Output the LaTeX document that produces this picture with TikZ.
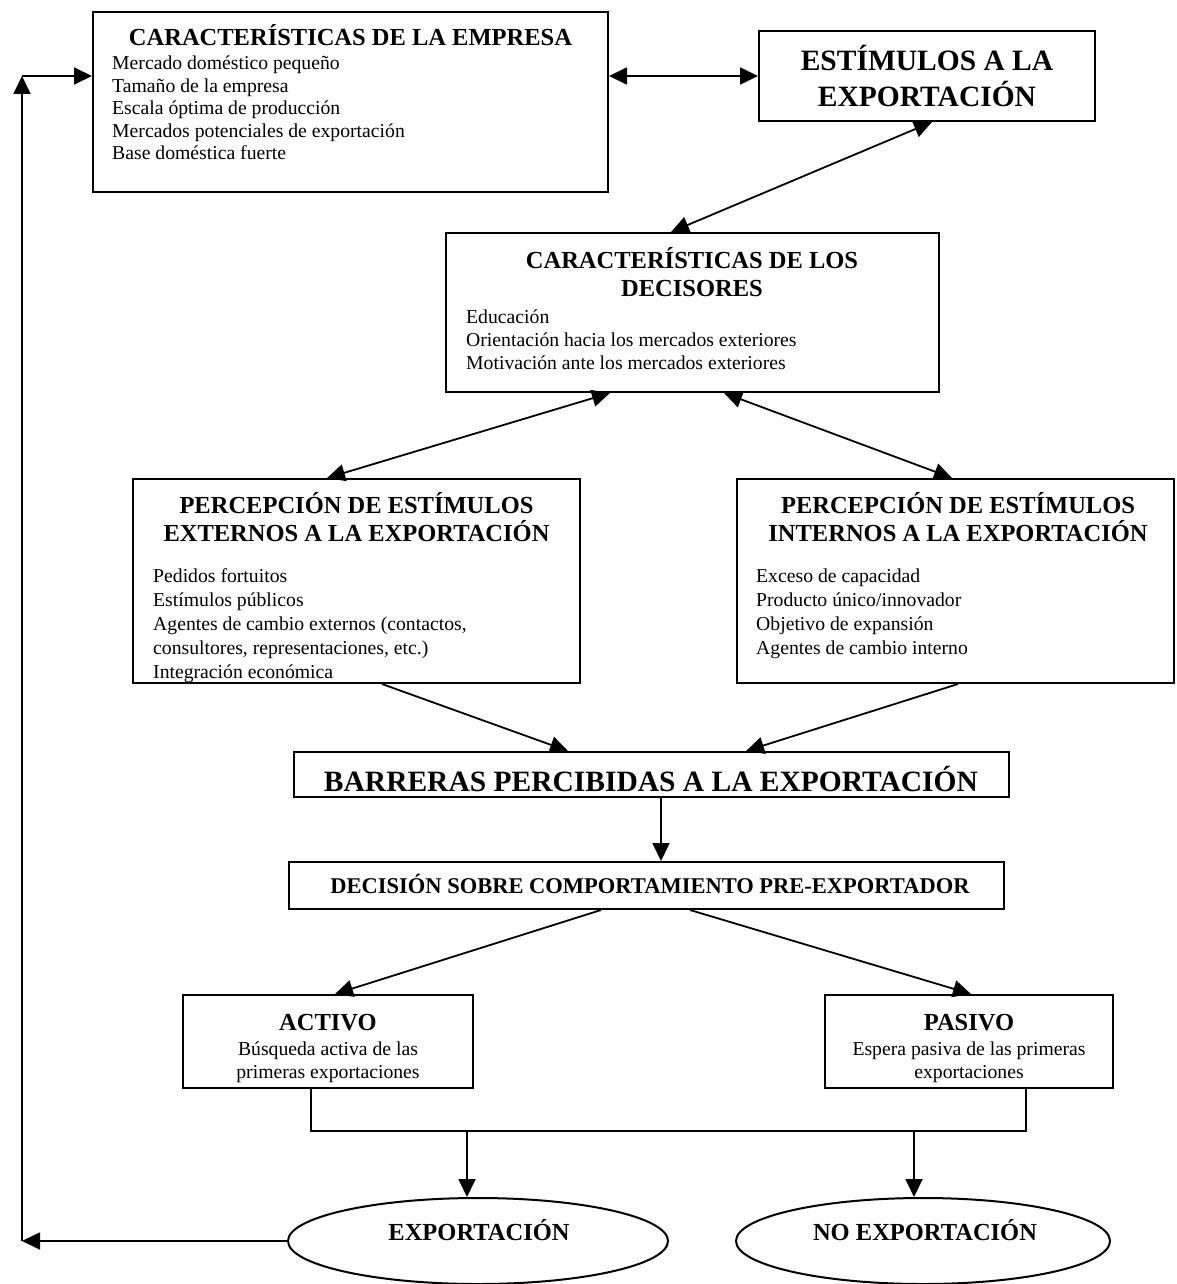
\documentclass[tikz,border=0pt]{standalone}
\usepackage{fontspec}
\setmainfont{Liberation Serif}
\usetikzlibrary{arrows.meta,shapes.geometric,calc}
\begin{document}
\begin{tikzpicture}[x=1pt,y=-1pt,
  box/.style={draw, line width=2pt, rectangle, inner sep=0pt},
  oval/.style={draw, line width=2pt, ellipse, inner sep=0pt},
  conn/.style={line width=1.8pt},
  tip/.tip={Triangle[length=18pt,width=17pt]},
  arr/.style={conn, -tip},
  dbl/.style={conn, tip-tip},
  ttl/.style={font=\fontsize{24.5}{28}\selectfont\bfseries, inner sep=0pt, anchor=base},
  big/.style={font=\fontsize{29.5}{34}\selectfont\bfseries, inner sep=0pt, anchor=base},
  mid/.style={font=\fontsize{22.5}{26}\selectfont\bfseries, inner sep=0pt, anchor=base},
  item/.style={font=\fontsize{19.7}{23}\selectfont, inner sep=0pt, anchor=base west},
  note/.style={font=\fontsize{19.7}{23}\selectfont, inner sep=0pt, anchor=base}]
\useasboundingbox (0,0) rectangle (1176,1284);
\clip (0,0) rectangle (1176,1284);

% boxes
\node[box, minimum width=515pt, minimum height=180pt] (emp) at (350.5,102) {};
\node[box, minimum width=336pt, minimum height=90pt] (est) at (927,76) {};
\node[box, minimum width=493pt, minimum height=159pt] (dec) at (692.5,312.5) {};
\node[box, minimum width=447pt, minimum height=204pt] (ext) at (356.5,581) {};
\node[box, minimum width=437pt, minimum height=204pt] (int) at (955.5,581) {};
\node[box, minimum width=715pt, minimum height=45pt] (bar) at (651.5,774.5) {};
\node[box, minimum width=715pt, minimum height=47pt] (dcs) at (646.5,885.5) {};
\node[box, minimum width=290pt, minimum height=93pt] (act) at (328,1041.5) {};
\node[box, minimum width=288pt, minimum height=93pt] (pas) at (969,1041.5) {};
\node[oval, minimum width=380pt, minimum height=86pt] (exp) at (478,1241) {};
\node[oval, minimum width=374pt, minimum height=86pt] (noexp) at (923,1241) {};

% texts
\node[ttl] (empT) at (350.5,46) {CARACTERÍSTICAS DE LA EMPRESA};
\foreach \t [count=\i] in {Mercado doméstico pequeño, Tamaño de la empresa,
  Escala óptima de producción, Mercados potenciales de exportación,
  Base doméstica fuerte}
  \node[item] (emp\i) at (112, 47.5+22.5*\i) {\t};

\node[big] (estA) at (927,71) {ESTÍMULOS A LA};
\node[big] (estB) at (927,107) {EXPORTACIÓN};

\node[ttl] (decA) at (692,268) {CARACTERÍSTICAS DE LOS};
\node[ttl] (decB) at (692,296) {DECISORES};
\foreach \t [count=\i] in {Educación, Orientación hacia los mercados exteriores,
  Motivación ante los mercados exteriores}
  \node[item] (dec\i) at (466, 300+23*\i) {\t};

\node[ttl] (extA) at (356.5,513) {PERCEPCIÓN DE ESTÍMULOS};
\node[ttl] (extB) at (356.5,541) {EXTERNOS A LA EXPORTACIÓN};
\foreach \t [count=\i] in {Pedidos fortuitos, Estímulos públicos,
  {Agentes de cambio externos (contactos,},
  {consultores, representaciones, etc.)}, Integración económica}
  \node[item] (ext\i) at (153, 558+24*\i) {\t};

\node[ttl] (intA) at (958,513) {PERCEPCIÓN DE ESTÍMULOS};
\node[ttl] (intB) at (958,541) {INTERNOS A LA EXPORTACIÓN};
\foreach \t [count=\i] in {Exceso de capacidad, Producto único/innovador,
  Objetivo de expansión, Agentes de cambio interno}
  \node[item] (int\i) at (756, 558+24*\i) {\t};

\node[big] (barT) at (651,791) {BARRERAS PERCIBIDAS A LA EXPORTACIÓN};
\node[mid] (dcsT) at (650,893) {DECISIÓN SOBRE COMPORTAMIENTO PRE-EXPORTADOR};

\node[ttl] (actT) at (328,1030) {ACTIVO};
\node[note] (act1) at (328,1055) {Búsqueda activa de las};
\node[note] (act2) at (328,1078) {primeras exportaciones};

\node[ttl] (pasT) at (969,1030) {PASIVO};
\node[note] (pas1) at (969,1055) {Espera pasiva de las primeras};
\node[note] (pas2) at (969,1078) {exportaciones};

\node[ttl] (expT) at (479,1240) {EXPORTACIÓN};
\node[ttl] (noexpT) at (925,1240) {NO EXPORTACIÓN};

% connectors
\draw[dbl] (emp.east |- est.west) -- (est.west);
\draw[dbl] ($(dec.north west)+(226,0)$) -- ($(est.south west)+(174,0)$);
\draw[dbl] ($(dec.south west)+(165,0)$) -- ($(ext.north west)+(195,0)$);
\draw[dbl] ($(dec.south west)+(279,0)$) -- ($(int.north west)+(216,0)$);
\draw[arr] ($(ext.south west)+(250,0)$) -- ($(bar.north west)+(275,0)$);
\draw[arr] ($(int.south west)+(222,0)$) -- ($(bar.north west)+(453,0)$);
\coordinate (bd) at ($(bar.south west)+(368,0)$);
\draw[arr] (bd) -- (bd |- dcs.north);
\draw[arr] ($(dcs.south west)+(313,0)$) -- ($(act.north west)+(153,0)$);
\draw[arr] ($(dcs.south west)+(402,0)$) -- ($(pas.north west)+(147,0)$);

% joining line below the two behaviours
\draw[conn] ($(act.south west)+(129,0)$) -- ++(0,42) coordinate (busL)
  -| ($(pas.south west)+(202,0)$);
\coordinate (bA) at ($(busL)+(156,0)$);
\coordinate (bB) at ($(busL)+(603,0)$);
\draw[arr] (bA) -- (bA |- exp.north);
\draw[arr] (bB) -- (bB |- noexp.north);

% feedback loop back to the firm
\coordinate (lb) at (22,1241);
\coordinate (lt) at (22,76);
\draw[arr] (exp.west) -- (lb);
\draw[arr] (lb) -- (lt);
\draw[arr] (lt) -- (lt -| emp.west);
\end{tikzpicture}
\end{document}
